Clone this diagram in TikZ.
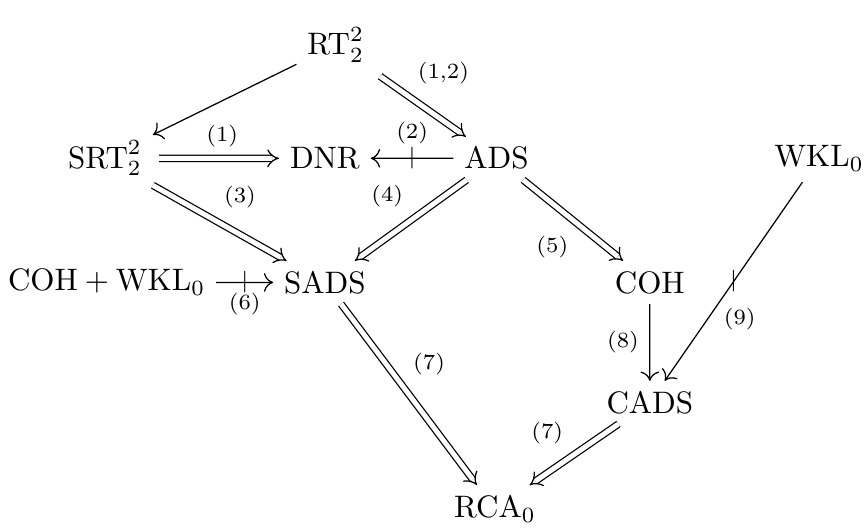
\documentclass[tikz,border=0pt]{standalone}
\usetikzlibrary{arrows.meta}
\tikzset{
  sgl/.style={-{To[length=3pt,width=6pt]}},
  dbl/.style={double, double distance=1.6pt, -{Implies}},
  lbl/.style={font=\scriptsize},
  nt/.style={inner sep=0pt, font=\scriptsize}
}
\begin{document}
\begin{tikzpicture}[scale=0.943]
        \useasboundingbox (0, 0) rectangle (10.37, 6.35);

        \node (rt) at (4.03, 5.81) {$\mathrm{RT}^2_2$};
        \node (srt) at (1.26, 4.45) {$\mathrm{SRT}^2_2$};
        \node (dnr) at (3.90, 4.45) {$\mathrm{DNR}$};
        \node (ads) at (5.96, 4.45) {$\mathrm{ADS}$};
        \node (wkl) at (9.83, 4.45) {$\mathrm{WKL}_0$};

        \node (cohwkl) at (1.28, 2.96) {$\mathrm{COH}+\mathrm{WKL}_0$};
        \node (sads) at (3.90, 2.96) {$\mathrm{SADS}$};
        \node (coh) at (7.80, 2.96) {$\mathrm{COH}$};
        \node (cads) at (7.80, 1.52) {$\mathrm{CADS}$};
        \node (rca) at (5.94, 0.24) {$\mathrm{RCA}_0$};

        \draw[sgl] (rt) to (srt);
        \draw[dbl, shorten <=2pt] (rt) to node[lbl, pos=0.35, above right]{(1,2)} (ads);

        \draw[dbl, shorten <=2pt] (srt) to node[lbl, pos=0.55, above]{(1)} (dnr);
        \draw[sgl] (ads) to node[nt]{$|$} node[lbl, above=1pt]{(2)} (dnr);

        \draw[dbl] (srt) to node[lbl, pos=0.45, above right]{(3)} (sads);
        \draw[dbl] (ads) to node[lbl, pos=0.47, above left]{(4)} (sads);
        \draw[dbl] (ads) to node[lbl, pos=0.56, below left]{(5)} (coh);
        \draw[sgl] (cohwkl) to node[nt]{$|$} node[lbl, below=0pt]{(6)} (sads);

        \draw[dbl] (sads) to node[lbl, pos=0.45, above right]{(7)} (rca);
        \draw[sgl] (coh) to node[lbl, left]{(8)} (cads);
        \draw[sgl] (wkl) to node[nt]{$|$} node[lbl, below=5pt, xshift=2pt]{(9)} (cads);
        \draw[dbl] (cads) to node[lbl, above left]{(7)} (rca);
\end{tikzpicture}
\end{document}
